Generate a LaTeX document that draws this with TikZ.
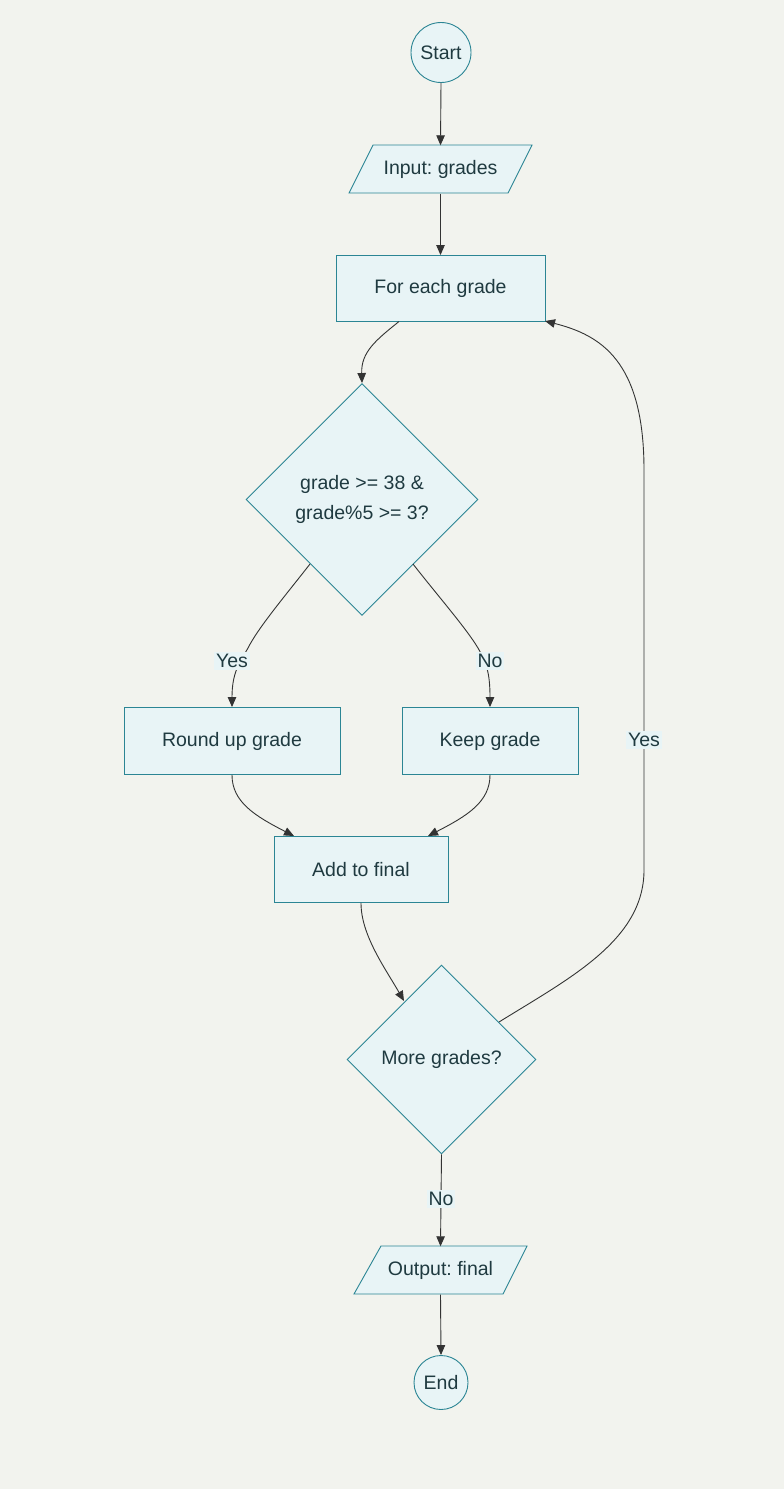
\documentclass[tikz,border=0pt]{standalone}
\usepackage{fontspec}
\setmainfont{Liberation Sans}
\usetikzlibrary{shapes.geometric,arrows.meta}
\definecolor{bg}{HTML}{F2F3EE}
\definecolor{nfill}{HTML}{E8F4F6}
\definecolor{nline}{HTML}{2B8594}
\definecolor{ntext}{HTML}{1F3A40}
\definecolor{eline}{HTML}{333333}
\frenchspacing
\tikzset{
  base/.style={draw=nline, fill=nfill, line width=0.9pt, text=ntext, font=\fontsize{19.5}{30}\selectfont, inner sep=0pt},
  termbox/.style={base, circle},
  procbox/.style={base, rectangle},
  decbox/.style={base, diamond, align=center},
  iotext/.style={text=ntext, font=\fontsize{19.5}{30}\selectfont, inner sep=0pt, minimum width=150pt, minimum height=48pt},
  iopath/.style={draw=nline, fill=nfill, line width=0.9pt},
  edge/.style={draw=eline, line width=0.9pt, -{Triangle[length=10pt,width=8.5pt]}},
  elabel/.style={fill=nfill, text=ntext, font=\fontsize{19.5}{24}\selectfont, inner sep=2pt}
}
\begin{document}
\begin{tikzpicture}[x=1pt,y=-1pt]
\fill[bg] (0,0) rectangle (784,1489);
\useasboundingbox (0,0) rectangle (784,1489);

\node[termbox, minimum size=60pt] (start) at (441,52.5) {Start};

\filldraw[iopath] (373,145) -- (532,145) -- (508,193) -- (349,193) -- cycle;
\node[iotext] (input) at (440.5,169.5) {Input: grades};

\node[procbox, minimum width=209pt, minimum height=66pt] (foreach) at (440.5,288.5) {For each grade};

\node[decbox, minimum width=232pt, minimum height=232pt] (cond) at (362,499.5) {grade >= 38 \&\\grade\%5 >= 3?};

\node[procbox, minimum width=216pt, minimum height=67pt] (round) at (232,741) {Round up grade};
\node[procbox, minimum width=176pt, minimum height=67pt] (keep) at (490,741) {Keep grade};
\node[procbox, minimum width=174pt, minimum height=66pt] (add) at (361,869.5) {Add to final};

\node[decbox, minimum width=189pt, minimum height=189pt] (more) at (441.5,1059.5) {More grades?};

\filldraw[iopath] (381,1246) -- (527,1246) -- (503,1294) -- (354,1294) -- cycle;
\node[iotext, minimum width=140pt] (output) at (440.5,1270.5) {Output: final};

\node[termbox, minimum size=54pt] (end) at (441,1382.5) {End};

% edges
\draw[edge] (start.south) -- (input.north);
\draw[edge] (input.south) -- (foreach.north);
\draw[edge] (399,321.5) .. controls (376,340) and (361,352) .. (cond.north);
\draw[edge] (310,564) .. controls (285,596) and (258,628) .. (248,648) .. controls (240,662) and (232,672) .. (round.north);
\node[elabel] (yes1) at (232,661) {Yes};
\draw[edge] (413,564) .. controls (438,596) and (466,628) .. (478,648) .. controls (486,662) and (490,672) .. (keep.north);
\node[elabel] (no1) at (490,661) {No};
\draw[edge] (round.south) .. controls (232,802) and (255,816) .. (294,836);
\draw[edge] (keep.south) .. controls (490,802) and (467,816) .. (428,836);
\draw[edge] (add.south) .. controls (361,935) and (385,968) .. (404,1001);
\draw[edge] (499,1022) .. controls (570,978) and (644,940) .. (644,870) -- (644,470) .. controls (644,360) and (600,335) .. (545,321);
\node[elabel] (yes2) at (644,740) {Yes};
\draw[edge] (more.south) -- (output.north);
\node[elabel] (no2) at (441,1199) {No};
\draw[edge] (output.south) -- (end.north);
\end{tikzpicture}
\end{document}
